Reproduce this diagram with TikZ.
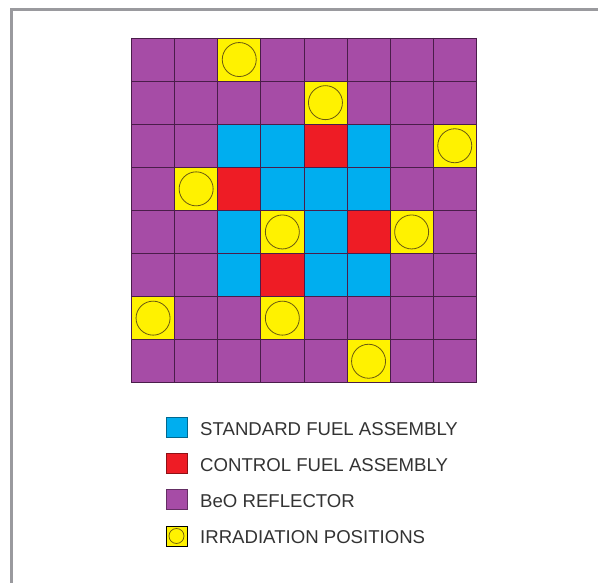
\documentclass[tikz,border=0pt]{standalone}
\usepackage{fontspec}
\setmainfont{Liberation Sans}
\definecolor{refl}{HTML}{A64CA6}
\definecolor{fuel}{HTML}{00AEEF}
\definecolor{ctrl}{HTML}{EE1C25}
\definecolor{irr}{HTML}{FFF200}
\definecolor{gridc}{HTML}{4A1D4A}
\definecolor{circc}{HTML}{6B5A10}
\definecolor{frame}{HTML}{9A9A9E}
\definecolor{txt}{HTML}{333333}
\tikzset{
  cellP/.style={fill=refl},
  cellB/.style={fill=fuel},
  cellR/.style={fill=ctrl},
  cellY/.style={fill=irr},
  keybox/.style={draw=#1!60!black, line width=0.6pt, minimum width=21pt, minimum height=20pt, inner sep=0pt},
  keytext/.style={anchor=base west, inner sep=0pt, text=txt, font=\fontsize{18.6}{20}\selectfont},
  hole/.style={draw=circc, line width=0.8pt},
  gridline/.style={gridc, line width=0.7pt},
}
\begin{document}
\begin{tikzpicture}[x=1pt,y=-1pt]
\useasboundingbox (0,0) rectangle (598,583);
\fill[white] (0,0) rectangle (598,583);
\draw[frame, line width=2.5pt] (11.5,583) -- (11.5,9.5) -- (598,9.5);
% grid
\def\cs{43.1}
\def\xo{131.5}
\def\yo{38}
\foreach \row [count=\r from 0] in {
  {P,P,Y,P,P,P,P,P},
  {P,P,P,P,Y,P,P,P},
  {P,P,B,B,R,B,P,Y},
  {P,Y,R,B,B,B,P,P},
  {P,P,B,Y,B,R,Y,P},
  {P,P,B,R,B,B,P,P},
  {Y,P,P,Y,P,P,P,P},
  {P,P,P,P,P,Y,P,P}} {
  \foreach \t [count=\c from 0] in \row {
    \fill[cell\t] ({\xo+\c*\cs},{\yo+\r*\cs}) rectangle ++(\cs,\cs);
  }
}
\foreach \i in {0,...,8} {
  \draw[gridline] ({\xo+\i*\cs},\yo) -- ({\xo+\i*\cs},{\yo+8*\cs});
  \draw[gridline] (\xo,{\yo+\i*\cs}) -- ({\xo+8*\cs},{\yo+\i*\cs});
}
\foreach \c/\r in {2/0,4/1,7/2,1/3,3/4,6/4,0/6,3/6,5/7} {
  \draw[hole] ({\xo+(\c+0.5)*\cs},{\yo+(\r+0.5)*\cs}) circle (17);
}
% legend
\node[keybox=fuel, fill=fuel] (k1) at (176.5,427) {};
\node[keybox=ctrl, fill=ctrl] (k2) at (176.5,463) {};
\node[keybox=refl, fill=refl] (k3) at (176.5,499.5) {};
\node[keybox=black, fill=irr] (k4) at (176.5,536) {};
\draw[hole, line width=0.7pt] (k4.center) circle (7.5);
\node[keytext] (t1) at (200,435) {STANDARD FUEL ASSEMBLY};
\node[keytext] (t2) at (200,471) {CONTROL FUEL ASSEMBLY};
\node[keytext] (t3) at (200,507) {BeO REFLECTOR};
\node[keytext] (t4) at (200,543) {IRRADIATION POSITIONS};
\end{tikzpicture}
\end{document}
